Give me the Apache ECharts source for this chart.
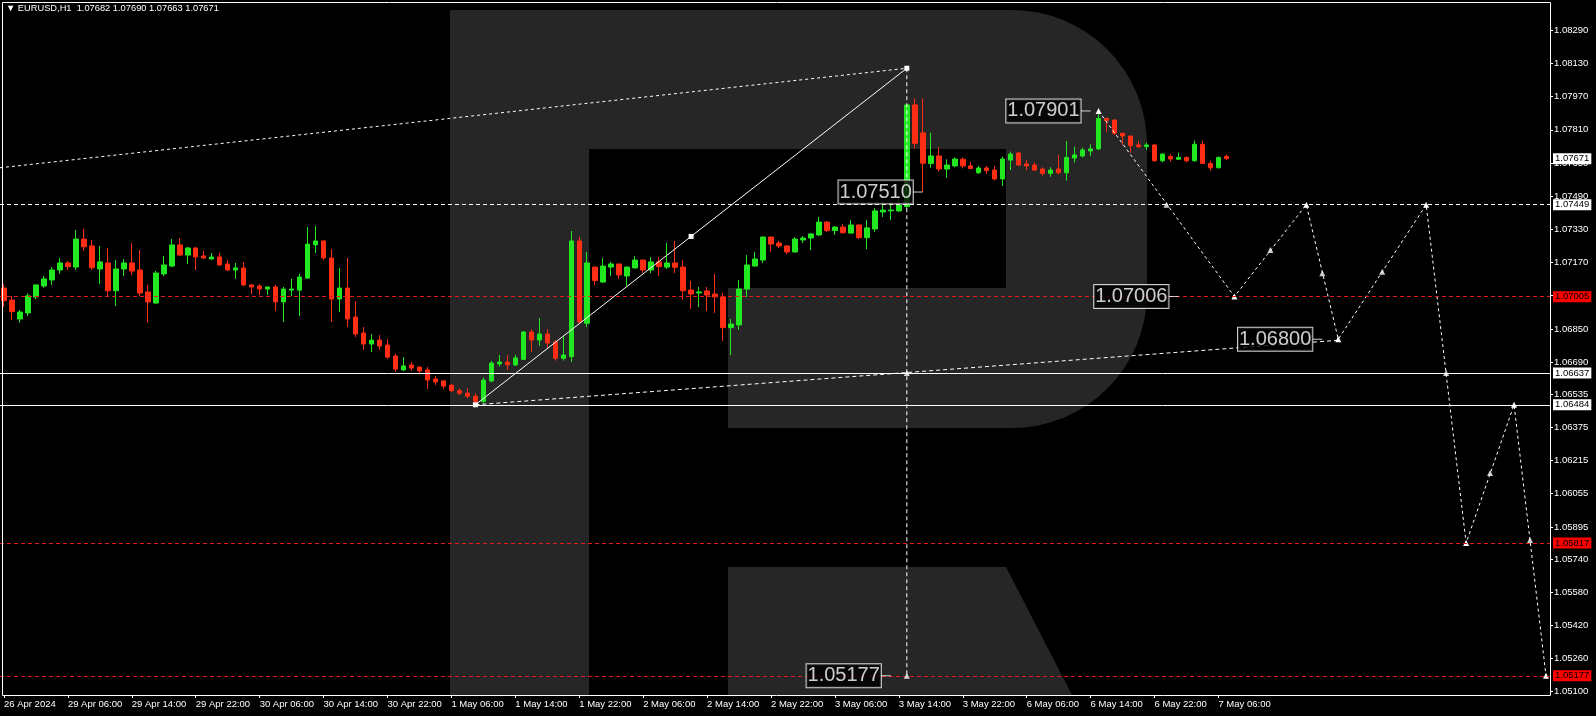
<!DOCTYPE html>
<html><head><meta charset="utf-8">
<script src="https://cdn.jsdelivr.net/npm/echarts@6/dist/echarts.min.js"></script>
<style>html,body{margin:0;padding:0;background:#000;}#c{width:1596px;height:716px;}</style>
</head><body><div id="c"></div>
<script>
// ---------------- data ----------------
const symbolName = 'EURUSD,H1';
const timeLabels = ['26 Apr 2024','29 Apr 06:00','29 Apr 14:00','29 Apr 22:00','30 Apr 06:00','30 Apr 14:00','30 Apr 22:00','1 May 06:00','1 May 14:00','1 May 22:00','2 May 06:00','2 May 14:00','2 May 22:00','3 May 06:00','3 May 14:00','3 May 22:00','6 May 06:00','6 May 14:00','6 May 22:00','7 May 06:00'];
// [open, high, low, close]
const candlesOHLC = [
[1.07047,1.07065,1.06957,1.06986],[1.06989,1.07009,1.06893,1.06933],[1.06898,1.06941,1.06880,1.06931],[1.06927,1.07021,1.06912,1.07009],
[1.07004,1.07062,1.06994,1.07062],[1.07057,1.07105,1.07049,1.07091],[1.07086,1.07148,1.07062,1.07134],[1.07134,1.07192,1.07116,1.07168],
[1.07168,1.07177,1.07134,1.07150],[1.07148,1.07327,1.07134,1.07283],[1.07283,1.07332,1.07227,1.07246],[1.07250,1.07279,1.07134,1.07145],
[1.07139,1.07250,1.07066,1.07173],[1.07168,1.07240,1.07004,1.07034],[1.07034,1.07182,1.06960,1.07139],[1.07139,1.07187,1.07105,1.07168],
[1.07168,1.07264,1.07110,1.07129],[1.07134,1.07230,1.07009,1.07023],[1.07028,1.07062,1.06880,1.06980],[1.06975,1.07129,1.06970,1.07119],
[1.07115,1.07202,1.07105,1.07158],[1.07153,1.07283,1.07148,1.07255],[1.07255,1.07288,1.07202,1.07206],[1.07206,1.07245,1.07163,1.07240],
[1.07240,1.07243,1.07134,1.07197],[1.07202,1.07226,1.07187,1.07192],[1.07187,1.07216,1.07185,1.07197],[1.07197,1.07216,1.07156,1.07158],
[1.07163,1.07182,1.07129,1.07134],[1.07134,1.07168,1.07091,1.07144],[1.07144,1.07173,1.07057,1.07062],[1.07062,1.07066,1.07018,1.07052],
[1.07057,1.07066,1.07013,1.07042],[1.07042,1.07054,1.07013,1.07052],[1.07052,1.07062,1.06936,1.06980],[1.06980,1.07052,1.06883,1.07042],
[1.07037,1.07091,1.07009,1.07042],[1.07037,1.07115,1.06912,1.07100],[1.07095,1.07341,1.07091,1.07259],[1.07255,1.07346,1.07216,1.07274],
[1.07274,1.07276,1.07182,1.07192],[1.07192,1.07235,1.06883,1.06994],[1.06994,1.07144,1.06931,1.07047],[1.07047,1.07192,1.06859,1.06898],
[1.06907,1.06984,1.06811,1.06825],[1.06830,1.06859,1.06748,1.06777],[1.06777,1.06825,1.06738,1.06796],[1.06796,1.06820,1.06748,1.06767],
[1.06772,1.06801,1.06705,1.06714],[1.06719,1.06729,1.06642,1.06656],[1.06652,1.06714,1.06647,1.06671],[1.06676,1.06690,1.06647,1.06661],
[1.06666,1.06668,1.06637,1.06647],[1.06652,1.06666,1.06560,1.06603],[1.06608,1.06623,1.06579,1.06594],[1.06599,1.06601,1.06560,1.06574],
[1.06579,1.06582,1.06545,1.06552],[1.06552,1.06562,1.06530,1.06540],[1.06540,1.06563,1.06515,1.06525],[1.06525,1.06540,1.06484,1.06500],
[1.06500,1.06616,1.06490,1.06603],[1.06599,1.06695,1.06592,1.06685],[1.06681,1.06724,1.06668,1.06690],[1.06690,1.06724,1.06652,1.06677],
[1.06676,1.06724,1.06671,1.06710],[1.06703,1.06840,1.06700,1.06835],[1.06835,1.06848,1.06738,1.06796],[1.06796,1.06902,1.06767,1.06825],
[1.06825,1.06849,1.06758,1.06782],[1.06787,1.06796,1.06697,1.06708],[1.06708,1.06816,1.06697,1.06724],[1.06716,1.07322,1.06690,1.07274],
[1.07274,1.07293,1.06873,1.06883],[1.06877,1.07221,1.06859,1.07168],[1.07148,1.07150,1.07062,1.07083],[1.07076,1.07192,1.07071,1.07153],
[1.07148,1.07173,1.07105,1.07163],[1.07163,1.07165,1.07091,1.07110],[1.07105,1.07150,1.07057,1.07148],[1.07144,1.07202,1.07142,1.07182],
[1.07182,1.07184,1.07119,1.07134],[1.07134,1.07197,1.07119,1.07173],[1.07173,1.07197,1.07105,1.07150],[1.07148,1.07264,1.07139,1.07168],
[1.07168,1.07274,1.07119,1.07147],[1.07148,1.07182,1.06991,1.07034],[1.07037,1.07081,1.06946,1.07018],[1.07023,1.07052,1.06955,1.07028],
[1.07033,1.07052,1.06936,1.07013],[1.07018,1.07115,1.06927,1.07004],[1.07004,1.07023,1.06791,1.06856],[1.06856,1.06898,1.06724,1.06873],
[1.06869,1.07086,1.06845,1.07042],[1.07042,1.07206,1.07004,1.07158],[1.07153,1.07221,1.07151,1.07187],[1.07182,1.07295,1.07168,1.07293],
[1.07293,1.07295,1.07221,1.07259],[1.07264,1.07274,1.07240,1.07250],[1.07250,1.07252,1.07211,1.07221],[1.07221,1.07293,1.07219,1.07283],
[1.07279,1.07298,1.07264,1.07288],[1.07288,1.07310,1.07230,1.07308],[1.07303,1.07390,1.07298,1.07365],[1.07365,1.07370,1.07317,1.07324],
[1.07324,1.07346,1.07303,1.07341],[1.07341,1.07356,1.07308,1.07314],[1.07312,1.07375,1.07310,1.07351],[1.07351,1.07353,1.07283,1.07290],
[1.07290,1.07375,1.07235,1.07337],[1.07332,1.07433,1.07317,1.07419],[1.07414,1.07462,1.07390,1.07423],[1.07419,1.07462,1.07375,1.07423],
[1.07419,1.07491,1.07414,1.07447],[1.07440,1.07932,1.07425,1.07930],[1.07930,1.07962,1.07720,1.07745],[1.07795,1.07962,1.07510,1.07649],
[1.07648,1.07796,1.07627,1.07684],[1.07684,1.07726,1.07608,1.07621],[1.07621,1.07668,1.07579,1.07640],[1.07636,1.07677,1.07629,1.07669],
[1.07668,1.07677,1.07624,1.07636],[1.07636,1.07656,1.07622,1.07623],[1.07603,1.07636,1.07597,1.07626],[1.07626,1.07636,1.07597,1.07613],
[1.07616,1.07636,1.07565,1.07573],[1.07573,1.07681,1.07539,1.07669],[1.07664,1.07705,1.07616,1.07693],[1.07698,1.07705,1.07638,1.07640],
[1.07645,1.07664,1.07616,1.07636],[1.07640,1.07652,1.07613,1.07616],[1.07621,1.07629,1.07589,1.07600],[1.07600,1.07629,1.07584,1.07616],
[1.07621,1.07689,1.07595,1.07603],[1.07603,1.07756,1.07565,1.07677],[1.07674,1.07729,1.07652,1.07689],[1.07684,1.07724,1.07677,1.07713],
[1.07708,1.07740,1.07684,1.07718],[1.07718,1.07901,1.07713,1.07865],[1.07865,1.07869,1.07801,1.07854],[1.07857,1.07861,1.07785,1.07793],
[1.07793,1.07796,1.07737,1.07780],[1.07780,1.07781,1.07700,1.07734],[1.07737,1.07756,1.07721,1.07729],[1.07729,1.07748,1.07713,1.07737],
[1.07737,1.07740,1.07656,1.07661],[1.07661,1.07697,1.07653,1.07693],[1.07681,1.07693,1.07656,1.07669],[1.07668,1.07700,1.07664,1.07677],
[1.07677,1.07681,1.07652,1.07661],[1.07661,1.07758,1.07656,1.07740],[1.07740,1.07758,1.07645,1.07648],[1.07648,1.07661,1.07613,1.07627],
[1.07627,1.07681,1.07624,1.07677],[1.07682,1.07690,1.07663,1.07671]
];
const priceTicks = [1.08290,1.08130,1.07970,1.07810,1.07650,1.07490,1.07330,1.07170,1.07010,1.06850,1.06690,1.06535,1.06375,1.06215,1.06055,1.05895,1.05740,1.05580,1.05420,1.05260,1.05100];
const priceMin = 1.050842, priceMax = 1.084265;
const slotCount = 194; // bar slots incl. empty future area

// horizontal levels
const levelPrices = [1.07449, 1.07005, 1.06637, 1.06484, 1.05817, 1.05177];
const levelStyles = ['wdash', 'rdash', 'wsolid', 'wsolid', 'rdash', 'rdash'];
const currentPrice = 1.07671;

// trend lines (x = bar index, y = price)
const trendAX = [-0.5, 113], trendAY = [1.07627, 1.08107];
const trendBX = [59, 86, 113], trendBY = [1.06484, 1.07296, 1.08107];
const trendCX = [59, 167], trendCY = [1.06484, 1.06795];
const vertX = [113, 113], vertY = [1.08107, 1.05177];
const forecastX = [137, 154, 163, 167, 178, 183, 189, 193];
const forecastY = [1.07901, 1.07006, 1.07449, 1.06800, 1.07449, 1.05817, 1.06484, 1.05177];
const arrowX = [145.5, 158.5, 165, 172.5, 180.5, 186, 191, 113, 113];
const arrowY = [1.07449, 1.07230, 1.07118, 1.07126, 1.06637, 1.06155, 1.05832, 1.06637, 1.05177];
// boxed price labels
const boxX = [115, 136, 147, 165, 111];
const boxY = [1.07510, 1.07901, 1.07006, 1.06800, 1.05177];

// ---------------- chart ----------------
const FONT = "'Liberation Sans', Arial, sans-serif";
const BULL = '#22e822', BEAR = '#ff2d14', RED = '#ff0000', REDLINE = '#e21c1c';
const X0 = -0.5, X1 = slotCount - 0.5;

const categories = [];
for (let i = 0; i < slotCount; i++) {
  categories.push(i % 8 === 0 && i / 8 < timeLabels.length ? timeLabels[i / 8] : '');
}
const candleData = candlesOHLC.map(([o, h, l, c]) => [o, c, l, h]);
const pairs = (xs, ys) => xs.map((x, i) => [x, ys[i]]);
const last = candlesOHLC[candlesOHLC.length - 1];
const headerText = '\u25BC ' + symbolName + '  ' + last.map(v => v.toFixed(5)).join(' ');

const axisBox = (p, bg) => ({
  show: true, position: 'end', distance: 3, formatter: p.toFixed(5),
  color: '#000', backgroundColor: bg, opacity: 1,
  padding: [0, 2, 0, 2], fontSize: 9.5, lineHeight: 11, fontFamily: FONT
});
const levelLines = levelPrices.map((p, i) => {
  const s = levelStyles[i];
  const red = s === 'rdash';
  return [
    { coord: [X0, p],
      lineStyle: { color: red ? REDLINE : '#ffffff', width: 1, type: s === 'wsolid' ? 'solid' : [4, 3] },
      label: axisBox(p, red ? RED : '#ffffff') },
    { coord: [X1, p] }
  ];
});
levelLines.push([
  { coord: [X0, currentPrice], lineStyle: { color: 'rgba(0,0,0,0)', width: 1 }, label: axisBox(currentPrice, '#ffffff') },
  { coord: [X1, currentPrice] }
]);

const lineSeries = (name, xs, ys, opts) => Object.assign({
  name, type: 'line', xAxisIndex: 1, yAxisIndex: 0, data: pairs(xs, ys),
  silent: true, animation: false, clip: false, z: 4,
  symbol: 'none', showSymbol: false,
  lineStyle: { color: '#ffffff', width: 1, type: [4, 3] },
  itemStyle: { color: '#ffffff' }
}, opts);

const WM = '#262626';
const wm = (el) => Object.assign({ silent: true, z: -10, style: { fill: WM } }, el);
const option = {
  backgroundColor: '#000000',
  animation: false,
  title: {
    text: headerText, left: 6, top: 4, padding: 0,
    textStyle: { color: '#ffffff', fontSize: 9.3, fontWeight: 'normal', fontFamily: FONT }
  },
  grid: { left: 0, right: 46, top: 2, bottom: 21, containLabel: false, outerBoundsMode: 'none' },
  xAxis: [
    {
      type: 'category', data: categories, boundaryGap: true,
      axisLine: { show: false, onZero: false },
      axisTick: { show: true, alignWithLabel: true, length: 3, interval: (i) => categories[i] !== '', lineStyle: { color: '#ffffff' } },
      axisLabel: { show: true, interval: (i) => categories[i] !== '', align: 'left', color: '#ffffff', fontSize: 9.5, margin: 4, fontFamily: FONT },
      splitLine: { show: false }
    },
    { type: 'value', min: X0, max: X1, show: false, axisLine: { onZero: false }, splitLine: { show: false } }
  ],
  yAxis: {
    type: 'value', position: 'right', min: priceMin, max: priceMax,
    axisLine: { show: false, onZero: false }, splitLine: { show: false },
    axisTick: { show: true, length: 3, lineStyle: { color: '#ffffff' }, customValues: priceTicks },
    axisLabel: { show: true, color: '#ffffff', fontSize: 9.5, margin: 4, fontFamily: FONT,
      customValues: priceTicks, formatter: v => v.toFixed(5) }
  },
  graphic: {
    elements: [
      // watermark "R"
      wm({ type: 'rect', shape: { x: 450, y: 10, width: 139, height: 685 } }),
      wm({ type: 'rect', shape: { x: 588, y: 10, width: 425, height: 139 } }),
      wm({ type: 'rect', shape: { x: 728, y: 288, width: 285, height: 140 } }),
      wm({ type: 'rect', shape: { x: 1006, y: 144, width: 141, height: 150 } }),
      wm({ type: 'sector', shape: { cx: 1012, cy: 145, r: 135, r0: 0, startAngle: -Math.PI / 2, endAngle: 0, clockwise: true } }),
      wm({ type: 'sector', shape: { cx: 1012, cy: 293, r: 135, r0: 0, startAngle: 0, endAngle: Math.PI / 2, clockwise: true } }),
      wm({ type: 'polygon', shape: { points: [[728, 567], [1006, 567], [1072, 695], [728, 695]] } }),
      // frame
      { type: 'rect', silent: true, z: 100, shape: { x: 2.5, y: 2.5, width: 1548, height: 693 }, style: { fill: null, stroke: '#ffffff', lineWidth: 1 } }
    ]
  },
  series: [
    {
      name: 'EURUSD', type: 'candlestick', xAxisIndex: 0, yAxisIndex: 0, data: candleData,
      barWidth: 5, silent: true, z: 3,
      itemStyle: { color: BULL, color0: BEAR, borderColor: BULL, borderColor0: BEAR, borderWidth: 1 }
    },
    {
      name: 'levels', type: 'line', xAxisIndex: 1, yAxisIndex: 0, data: [], clip: false, silent: true, z: 2,
      markLine: { symbol: ['none', 'none'], silent: true, animation: false, precision: 5, data: levelLines }
    },
    lineSeries('trendA', trendAX, trendAY, { lineStyle: { color: '#ffffff', width: 1, type: [3, 3] } }),
    lineSeries('trendB', trendBX, trendBY, { lineStyle: { color: '#ffffff', width: 1, type: 'solid' },
      symbol: 'rect', symbolSize: 5, showSymbol: true }),
    lineSeries('trendC', trendCX, trendCY, {}),
    lineSeries('vert', vertX, vertY, {}),
    lineSeries('forecast', forecastX, forecastY, { lineStyle: { color: '#ffffff', width: 1, type: [3, 3] },
      symbol: 'triangle', symbolSize: 6, showSymbol: true }),
    {
      name: 'arrows', type: 'scatter', xAxisIndex: 1, yAxisIndex: 0, data: pairs(arrowX, arrowY),
      symbol: 'triangle', symbolSize: 6, itemStyle: { color: '#ffffff' }, silent: true, z: 5, clip: false
    },
    {
      name: 'boxes', type: 'scatter', xAxisIndex: 1, yAxisIndex: 0, data: pairs(boxX, boxY),
      symbol: 'rect', symbolSize: [10, 1], symbolOffset: [-5, 0], itemStyle: { color: '#ffffff' },
      silent: true, z: 6, clip: false,
      label: {
        show: true, position: 'left', distance: 0,
        formatter: p => p.value[1].toFixed(5),
        color: '#ffffff', fontSize: 20, fontFamily: FONT, lineHeight: 22,
        backgroundColor: '#000000', borderColor: '#ffffff', borderWidth: 1, padding: [1, 1, 0, 1]
      }
    }
  ]
};
const chart = echarts.init(document.getElementById('c'), null, { renderer: 'canvas' });
chart.setOption(option);
</script>
</body></html>
